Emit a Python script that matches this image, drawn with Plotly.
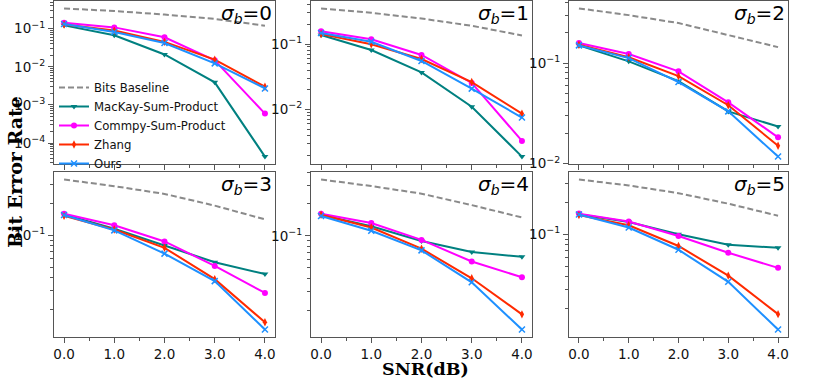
import math
import plotly.graph_objects as go

snr = [0, 1, 2, 3, 4]
snr_labels = ["0.0", "1.0", "2.0", "3.0", "4.0"]
sigma_b = [0, 1, 2, 3, 4, 5]

baseline = [
    [0.34, 0.29, 0.235, 0.18, 0.12],
    [0.35, 0.30, 0.245, 0.19, 0.135],
    [0.35, 0.30, 0.25, 0.19, 0.144],
    [0.335, 0.29, 0.245, 0.19, 0.141],
    [0.34, 0.295, 0.25, 0.195, 0.149],
    [0.33, 0.29, 0.245, 0.195, 0.150],
]
mackay = [
    [0.122, 0.067, 0.021, 0.0039, 4.4e-5],
    [0.137, 0.081, 0.0368, 0.011, 0.0019],
    [0.150, 0.104, 0.066, 0.033, 0.0233],
    [0.157, 0.115, 0.080, 0.0556, 0.043],
    [0.157, 0.123, 0.0896, 0.0705, 0.0635],
    [0.155, 0.131, 0.100, 0.0798, 0.0747],
]
commpy = [
    [0.143, 0.108, 0.0596, 0.0148, 5.9e-4],
    [0.157, 0.118, 0.068, 0.0254, 0.0033],
    [0.158, 0.123, 0.0826, 0.0406, 0.0182],
    [0.159, 0.124, 0.0873, 0.0513, 0.0285],
    [0.162, 0.132, 0.0916, 0.0573, 0.0407],
    [0.157, 0.132, 0.0966, 0.067, 0.0482],
]
zhang = [
    [0.129, 0.089, 0.045, 0.0154, 0.0030],
    [0.142, 0.099, 0.059, 0.0262, 0.0086],
    [0.152, 0.114, 0.074, 0.038, 0.0150],
    [0.152, 0.113, 0.076, 0.0385, 0.0151],
    [0.158, 0.120, 0.0757, 0.0398, 0.0182],
    [0.152, 0.122, 0.0776, 0.0407, 0.0176],
]
ours = [
    [0.132, 0.082, 0.042, 0.0123, 0.0027],
    [0.147, 0.108, 0.055, 0.0208, 0.0075],
    [0.150, 0.112, 0.0647, 0.033, 0.0117],
    [0.155, 0.111, 0.067, 0.0369, 0.0129],
    [0.154, 0.1116, 0.073, 0.0365, 0.0131],
    [0.154, 0.116, 0.0715, 0.0356, 0.0126],
]

series = [
    ("Bits Baseline", baseline, "#8a8a8a", None),
    ("MacKay-Sum-Product", mackay, "#008080", "triangle-down"),
    ("Commpy-Sum-Product", commpy, "#ff00ff", "circle"),
    ("Zhang", zhang, "#ff2a00", "diamond-tall"),
    ("Ours", ours, "#1e90ff", "x-thin"),
]

W, H = 830, 380
col_px = [(54, 275), (311, 532), (569, 788)]
row_px = [(1, 164), (172, 337)]

fig = go.Figure()
axis_color = "#555555"
tick_font = dict(family="DejaVu Sans", size=13.5, color="#111111")

for i, s in enumerate(sigma_b):
    r, c = divmod(i, 3)
    idx = i + 1
    xa = "x" if idx == 1 else f"x{idx}"
    ya = "y" if idx == 1 else f"y{idx}"
    for name, data, color, sym in series:
        if sym is None:
            tr = go.Scatter(x=snr, y=data[i], mode="lines", name=name,
                            line=dict(color=color, width=2, dash="6px,3px"),
                            showlegend=(i == 0), legendgroup=name,
                            xaxis=xa, yaxis=ya)
        else:
            mk = dict(symbol=sym, size=6, color=color,
                      line=dict(color=color, width=1.5 if sym == "x-thin" else 0))
            tr = go.Scatter(x=snr, y=data[i], mode="lines+markers", name=name,
                            line=dict(color=color, width=2), marker=mk,
                            showlegend=(i == 0), legendgroup=name,
                            xaxis=xa, yaxis=ya)
        fig.add_trace(tr)

    allv = [v for _, d, _, _ in series for v in d[i]]
    lo, hi = math.log10(min(allv)), math.log10(max(allv))
    pad = 0.05 * (hi - lo)
    ylo, yhi = lo - pad, hi + pad

    majors = [10.0 ** k for k in range(math.floor(ylo), math.ceil(yhi) + 1)
              if ylo <= k <= yhi]
    minors = [m * 10.0 ** k for k in range(math.floor(ylo), math.ceil(yhi) + 1)
              for m in range(2, 10) if ylo <= math.log10(m * 10.0 ** k) <= yhi]
    ticktext = [f"10<sup>\u2212{-int(round(math.log10(v)))}</sup>" for v in majors]

    x0, x1 = col_px[c]
    y0, y1 = row_px[r]
    xdom = [x0 / W, x1 / W]
    ydom = [1 - y1 / H, 1 - y0 / H]

    xkey = "xaxis" if idx == 1 else f"xaxis{idx}"
    ykey = "yaxis" if idx == 1 else f"yaxis{idx}"
    fig.update_layout({
        xkey: dict(domain=xdom, anchor=ya, range=[-0.2, 4.2], automargin=False,
                   tickmode="array", tickvals=snr,
                   ticktext=snr_labels if r == 1 else [""] * 5,
                   ticks="outside", ticklen=5, tickcolor=axis_color,
                   showline=True, mirror=True, linecolor=axis_color, linewidth=1.2,
                   showgrid=False, zeroline=False, tickfont=tick_font,
                   minor=dict(tickmode="array", tickvals=[0.5, 1.5, 2.5, 3.5],
                              ticks="outside", ticklen=3, tickcolor=axis_color)),
        ykey: dict(domain=ydom, anchor=xa, type="log", range=[ylo, yhi], automargin=False,
                   tickmode="array", tickvals=majors, ticktext=ticktext,
                   ticks="outside", ticklen=5, tickcolor=axis_color,
                   showline=True, mirror=True, linecolor=axis_color, linewidth=1.2,
                   showgrid=False, zeroline=False, tickfont=tick_font,
                   minor=dict(tickmode="array", tickvals=minors,
                              ticks="outside", ticklen=3, tickcolor=axis_color)),
    })
    fig.add_annotation(text=f"<i>\u03c3</i><sub><i>b</i></sub>={s}",
                       xref="paper", yref="paper",
                       x=(x1 - 1) / W, y=1 - (y0 - 2) / H,
                       xanchor="right", yanchor="top", showarrow=False,
                       font=dict(family="DejaVu Sans", size=20, color="black"))

fig.add_annotation(text="<b>Bit Error Rate</b>", xref="paper", yref="paper",
                   x=15 / W, y=1 - 172 / H, textangle=-90, showarrow=False,
                   xanchor="center", yanchor="middle",
                   font=dict(family="DejaVu Serif", size=19, color="black"))
fig.add_annotation(text="<b>SNR(dB)</b>", xref="paper", yref="paper",
                   x=426 / W, y=0, showarrow=False, borderpad=0,
                   xanchor="center", yanchor="bottom",
                   font=dict(family="DejaVu Serif", size=17.5, color="black"))

fig.update_layout(
    width=W, height=H, margin=dict(l=0, r=0, t=0, b=0),
    paper_bgcolor="white", plot_bgcolor="white",
    legend=dict(x=54 / W, y=1 - 73 / H, xanchor="left", yanchor="top",
                bgcolor="rgba(0,0,0,0)", tracegroupgap=0,
                font=dict(family="DejaVu Sans", size=11.7, color="#111111"),
                itemwidth=30),
)

fig.write_html("out.html", config={"displayModeBar": False},
               post_script="document.body.style.margin='0';document.body.style.padding='0';")
